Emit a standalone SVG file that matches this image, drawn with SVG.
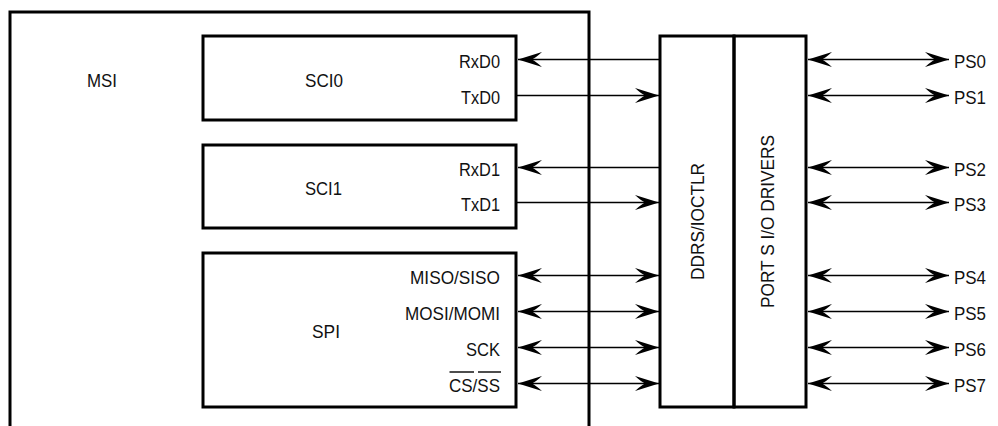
<svg xmlns="http://www.w3.org/2000/svg" width="998" height="426" viewBox="0 0 998 426">
<style>
  .box { fill: none; stroke: #000; stroke-width: 3; }
  .wire { fill: none; stroke: #000; stroke-width: 1.4; }
  .bar { stroke: #000; stroke-width: 1.4; }
  text { font-family: "Liberation Sans", Arial, sans-serif; font-size: 18.5px; fill: #111; }
</style>
<defs>
  <marker id="ah" viewBox="0 0 24 16" refX="24" refY="8" markerWidth="24" markerHeight="16" markerUnits="userSpaceOnUse" orient="auto-start-reverse">
    <path d="M24,8 L0,0.5 Q6,6 10,8 Q6,10 0,15.5 z" fill="#000"/>
  </marker>
</defs>
<rect width="998" height="426" fill="#fff"/>

<g id="msi">
  <path class="box" d="M10,426 V12 H589 V426"/>
  <text x="87" y="87" textLength="30" lengthAdjust="spacingAndGlyphs">MSI</text>
</g>

<g id="sci0">
  <rect class="box" x="203" y="36" width="313" height="84"/>
  <text x="305" y="87" textLength="38" lengthAdjust="spacingAndGlyphs">SCI0</text>
  <text x="459" y="68" textLength="41" lengthAdjust="spacingAndGlyphs">RxD0</text>
  <text x="461" y="104" textLength="39" lengthAdjust="spacingAndGlyphs">TxD0</text>
</g>

<g id="sci1">
  <rect class="box" x="203" y="145" width="313" height="83"/>
  <text x="305" y="195" textLength="37" lengthAdjust="spacingAndGlyphs">SCI1</text>
  <text x="459" y="176" textLength="41" lengthAdjust="spacingAndGlyphs">RxD1</text>
  <text x="461" y="211" textLength="39" lengthAdjust="spacingAndGlyphs">TxD1</text>
</g>

<g id="spi">
  <rect class="box" x="203" y="253" width="313" height="154"/>
  <text x="312" y="338" textLength="28" lengthAdjust="spacingAndGlyphs">SPI</text>
  <text x="410" y="284" textLength="90" lengthAdjust="spacingAndGlyphs">MISO/SISO</text>
  <text x="405" y="320" textLength="95" lengthAdjust="spacingAndGlyphs">MOSI/MOMI</text>
  <text x="466" y="356" textLength="34" lengthAdjust="spacingAndGlyphs">SCK</text>
  <text x="449" y="392" textLength="51" lengthAdjust="spacingAndGlyphs">CS/SS</text>
  <line class="bar" x1="449.5" y1="372" x2="474" y2="372"/>
  <line class="bar" x1="478" y1="372" x2="501" y2="372"/>
</g>

<g id="ddrs">
  <rect class="box" x="660" y="36" width="74" height="371"/>
  <text transform="translate(704,280) rotate(-90)" textLength="117" lengthAdjust="spacingAndGlyphs">DDRS/IOCTLR</text>
</g>

<g id="ports">
  <rect class="box" x="734" y="36" width="72" height="371"/>
  <text transform="translate(774,308) rotate(-90)" textLength="173" lengthAdjust="spacingAndGlyphs">PORT S I/O DRIVERS</text>
</g>

<g id="pins">
  <text x="954" y="68" textLength="32" lengthAdjust="spacingAndGlyphs">PS0</text>
  <text x="954" y="104" textLength="32" lengthAdjust="spacingAndGlyphs">PS1</text>
  <text x="954" y="176" textLength="32" lengthAdjust="spacingAndGlyphs">PS2</text>
  <text x="954" y="211" textLength="32" lengthAdjust="spacingAndGlyphs">PS3</text>
  <text x="954" y="284" textLength="32" lengthAdjust="spacingAndGlyphs">PS4</text>
  <text x="954" y="320" textLength="32" lengthAdjust="spacingAndGlyphs">PS5</text>
  <text x="954" y="356" textLength="32" lengthAdjust="spacingAndGlyphs">PS6</text>
  <text x="954" y="392" textLength="32" lengthAdjust="spacingAndGlyphs">PS7</text>
</g>

<g id="connectors">
  <line class="wire" x1="518" y1="59.5" x2="660" y2="59.5" marker-start="url(#ah)"/>
  <line class="wire" x1="516" y1="95.5" x2="659" y2="95.5" marker-end="url(#ah)"/>
  <line class="wire" x1="518" y1="167.5" x2="660" y2="167.5" marker-start="url(#ah)"/>
  <line class="wire" x1="516" y1="202.5" x2="659" y2="202.5" marker-end="url(#ah)"/>
  <line class="wire" x1="518" y1="275.5" x2="659" y2="275.5" marker-start="url(#ah)" marker-end="url(#ah)"/>
  <line class="wire" x1="518" y1="311.5" x2="659" y2="311.5" marker-start="url(#ah)" marker-end="url(#ah)"/>
  <line class="wire" x1="518" y1="347.5" x2="659" y2="347.5" marker-start="url(#ah)" marker-end="url(#ah)"/>
  <line class="wire" x1="518" y1="383.5" x2="659" y2="383.5" marker-start="url(#ah)" marker-end="url(#ah)"/>

  <line class="wire" x1="808" y1="59.5" x2="949" y2="59.5" marker-start="url(#ah)" marker-end="url(#ah)"/>
  <line class="wire" x1="808" y1="95.5" x2="949" y2="95.5" marker-start="url(#ah)" marker-end="url(#ah)"/>
  <line class="wire" x1="808" y1="167.5" x2="949" y2="167.5" marker-start="url(#ah)" marker-end="url(#ah)"/>
  <line class="wire" x1="808" y1="202.5" x2="949" y2="202.5" marker-start="url(#ah)" marker-end="url(#ah)"/>
  <line class="wire" x1="808" y1="275.5" x2="949" y2="275.5" marker-start="url(#ah)" marker-end="url(#ah)"/>
  <line class="wire" x1="808" y1="311.5" x2="949" y2="311.5" marker-start="url(#ah)" marker-end="url(#ah)"/>
  <line class="wire" x1="808" y1="347.5" x2="949" y2="347.5" marker-start="url(#ah)" marker-end="url(#ah)"/>
  <line class="wire" x1="808" y1="383.5" x2="949" y2="383.5" marker-start="url(#ah)" marker-end="url(#ah)"/>
</g>
</svg>
